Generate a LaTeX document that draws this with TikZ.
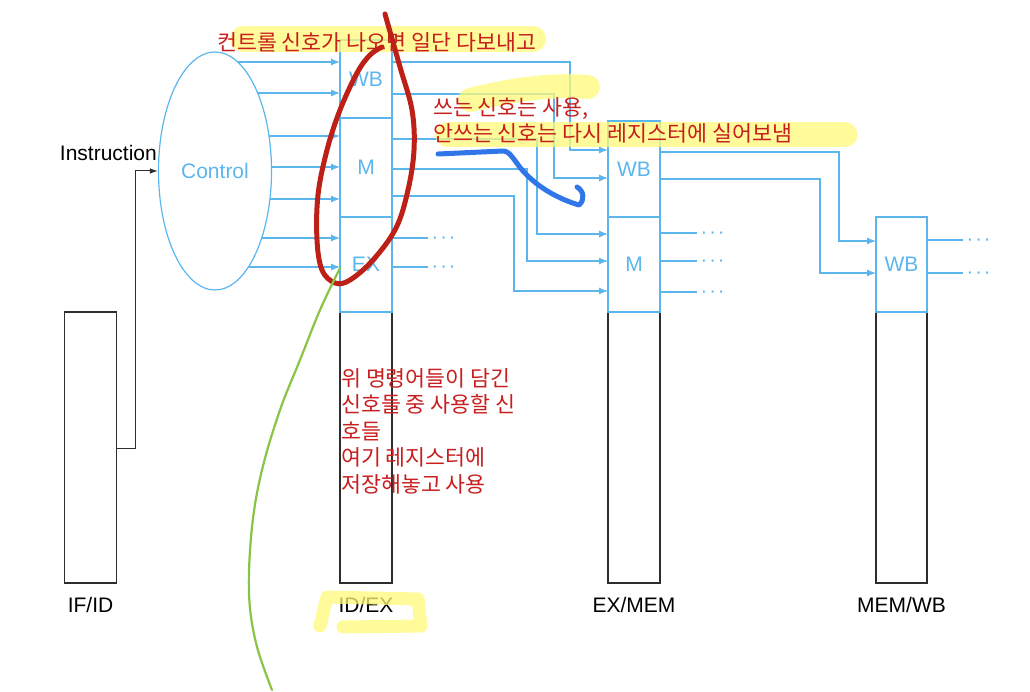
\documentclass[tikz,border=0pt]{standalone}
\usepackage{fontspec}
\setmainfont{Liberation Sans}
\newfontfamily\kr{Noto Sans CJK KR}
\usetikzlibrary{arrows.meta,positioning,calc,shapes.geometric}
\definecolor{sigblue}{RGB}{92,182,238}
\definecolor{regline}{RGB}{45,45,45}
\definecolor{notered}{RGB}{200,30,30}
\definecolor{penred}{RGB}{188,32,22}
\definecolor{penblue}{RGB}{48,118,232}
\definecolor{pengreen}{RGB}{138,196,70}
\definecolor{hilite}{RGB}{255,248,120}
\tikzset{
  reg/.style={draw=regline,line width=1.1pt,minimum width=52pt,minimum height=271pt,inner sep=0pt,outer sep=0pt},
  ctl/.style={draw=sigblue,text=sigblue,line width=1.2pt,minimum width=52pt,inner sep=0pt,outer sep=0pt,font=\fontsize{21}{25}\selectfont},
  lbl/.style={font=\fontsize{21}{25}\selectfont,inner sep=0pt},
  sig/.style={draw=sigblue,line width=1.2pt},
  sigarr/.style={sig,-{Latex[length=9pt,width=7pt]}},
  more/.style={text=sigblue,font=\fontsize{20}{20}\selectfont,inner sep=0pt,anchor=base west,xshift=3pt,yshift=-5.2pt},
  instr/.style={draw=regline,line width=1pt,-{Latex[length=8pt,width=5.5pt]}},
  hl/.style={draw=hilite,opacity=0.75,line cap=round,line join=round},
  note/.style={text=notered,font=\kr\fontsize{21.7}{26.5}\selectfont,inner sep=0pt},
  pen/.style={line width=5pt,line cap=round,line join=round}
}
\begin{document}
\begin{tikzpicture}[x=1pt,y=-1pt]
\useasboundingbox (0,0) rectangle (1030,692);

% pipeline registers
\node[reg] (ifid) at (90.5,447.5) {};
\node[reg] (idex) at (366,447.5) {};
\node[reg] (exmem) at (634,447.5) {};
\node[reg,minimum width=51pt] (memwb) at (901.5,447.5) {};
\node[lbl,below=14pt of ifid] (ifidl) {IF/ID};
\node[lbl,below=14pt of idex] (idexl) {ID/EX};
\node[lbl,below=14pt of exmem] (exmeml) {EX/MEM};
\node[lbl,below=14pt of memwb] (memwbl) {MEM/WB};

% control fields carried along
\node[ctl,minimum height=95pt,above=0pt of idex] (idexEX) {EX};
\node[ctl,minimum height=99pt,above=0pt of idexEX] (idexM) {M};
\node[ctl,minimum height=78pt,above=0pt of idexM] (idexWB) {WB};
\node[ctl,minimum height=95pt,above=0pt of exmem] (exmemM) {M};
\node[ctl,minimum height=96pt,above=0pt of exmemM] (exmemWB) {WB};
\node[ctl,minimum height=95pt,minimum width=51pt,above=0pt of memwb] (memwbWB) {WB};

\node[ellipse,draw=sigblue,line width=1.2pt,minimum width=113pt,minimum height=238pt,inner sep=0pt,
  text=sigblue,font=\fontsize{21}{25}\selectfont] (ctrl) at (215,171) {Control};
\node[lbl,anchor=base east] (instrl) at (157,161) {Instruction};
\draw[instr] (ifid.east |- 0,448) -- (135,448) |- (ctrl.west);

% control -> ID/EX
\foreach \y in {62,93,136,167,199,238,267}{
  \pgfmathsetmacro\dx{56.5*sqrt(1-((\y-171)/119)^2)}
  \draw[sigarr] ($(ctrl.center |- 0,\y)+(\dx,0)$) -- (idexWB.west |- 0,\y);
}
% ID/EX -> EX/MEM
\foreach \y/\xt/\yt/\dst in {62/570/150/exmemWB,94/554/178/exmemWB,139/537/234/exmemM,169/527/261/exmemM,196/514/291/exmemM}
  \draw[sigarr] (idexWB.east |- 0,\y) -- (\xt,\y) |- (\dst.west |- 0,\yt);
% EX/MEM -> MEM/WB
\foreach \y/\xt/\yt in {152/839/241,179/820/273}
  \draw[sigarr] (exmemWB.east |- 0,\y) -- (\xt,\y) |- (memwbWB.west |- 0,\yt);
% signals used in the stage
\foreach \y in {238,267}
  \draw[sig] (idexEX.east |- 0,\y) -- ++(36,0) node[more] {·\kern2pt·\kern2pt·};
\foreach \y in {233,261,292}
  \draw[sig] (exmemM.east |- 0,\y) -- ++(37,0) node[more] {·\kern2pt·\kern2pt·};
\foreach \y in {240,273}
  \draw[sig] (memwbWB.east |- 0,\y) -- ++(36,0) node[more] {·\kern2pt·\kern2pt·};

% notes
\draw[hl,line width=26pt] (243,39) -- (533,39);
\draw[hl,line width=24pt] (470,100) .. controls (510,90) and (550,84) .. (588,87);
\draw[hl,line width=25pt] (448,135) -- (845,135);
\draw[hl,line width=13pt] (320,626) -- (327,597) -- (418,599) -- (421,626) -- (343,627);
\node[note,anchor=west] (sendall) at (217,42) {컨트롤 신호가 나오면 일단 다보내고};
\node[note,align=left,anchor=north west] (passon) at (433,97) {쓰는 신호는 사용,\\안쓰는 신호는 다시 레지스터에 실어보냄};
\node[note,align=left,anchor=north west] (keep) at (341,368) {위 명령어들이 담긴\\신호들 중 사용할 신\\호들\\여기 레지스터에\\저장해놓고 사용};

\draw[pen,penred] plot[smooth,tension=0.6] coordinates {(385,14) (400,67) (412,110) (414,150) (408,190) (396,228) (373,260) (350,280) (335,283) (322,270) (317,240) (318,195) (327,150) (340,110) (357,73) (370,55) (382,47)};
\draw[pen,penblue] (438,154) -- (503,151) .. controls (512,151) and (515,165) .. (530,178)
  .. controls (545,192) and (565,201) .. (579,205) .. controls (585,200) and (584,191) .. (577,187);
\draw[line width=2.2pt,pengreen,line cap=round] plot[smooth,tension=0.6] coordinates {(340,268) (320,310) (300,360) (280,410) (262,470) (252,527) (249,593) (256,643) (272,690)};
\end{tikzpicture}
\end{document}
